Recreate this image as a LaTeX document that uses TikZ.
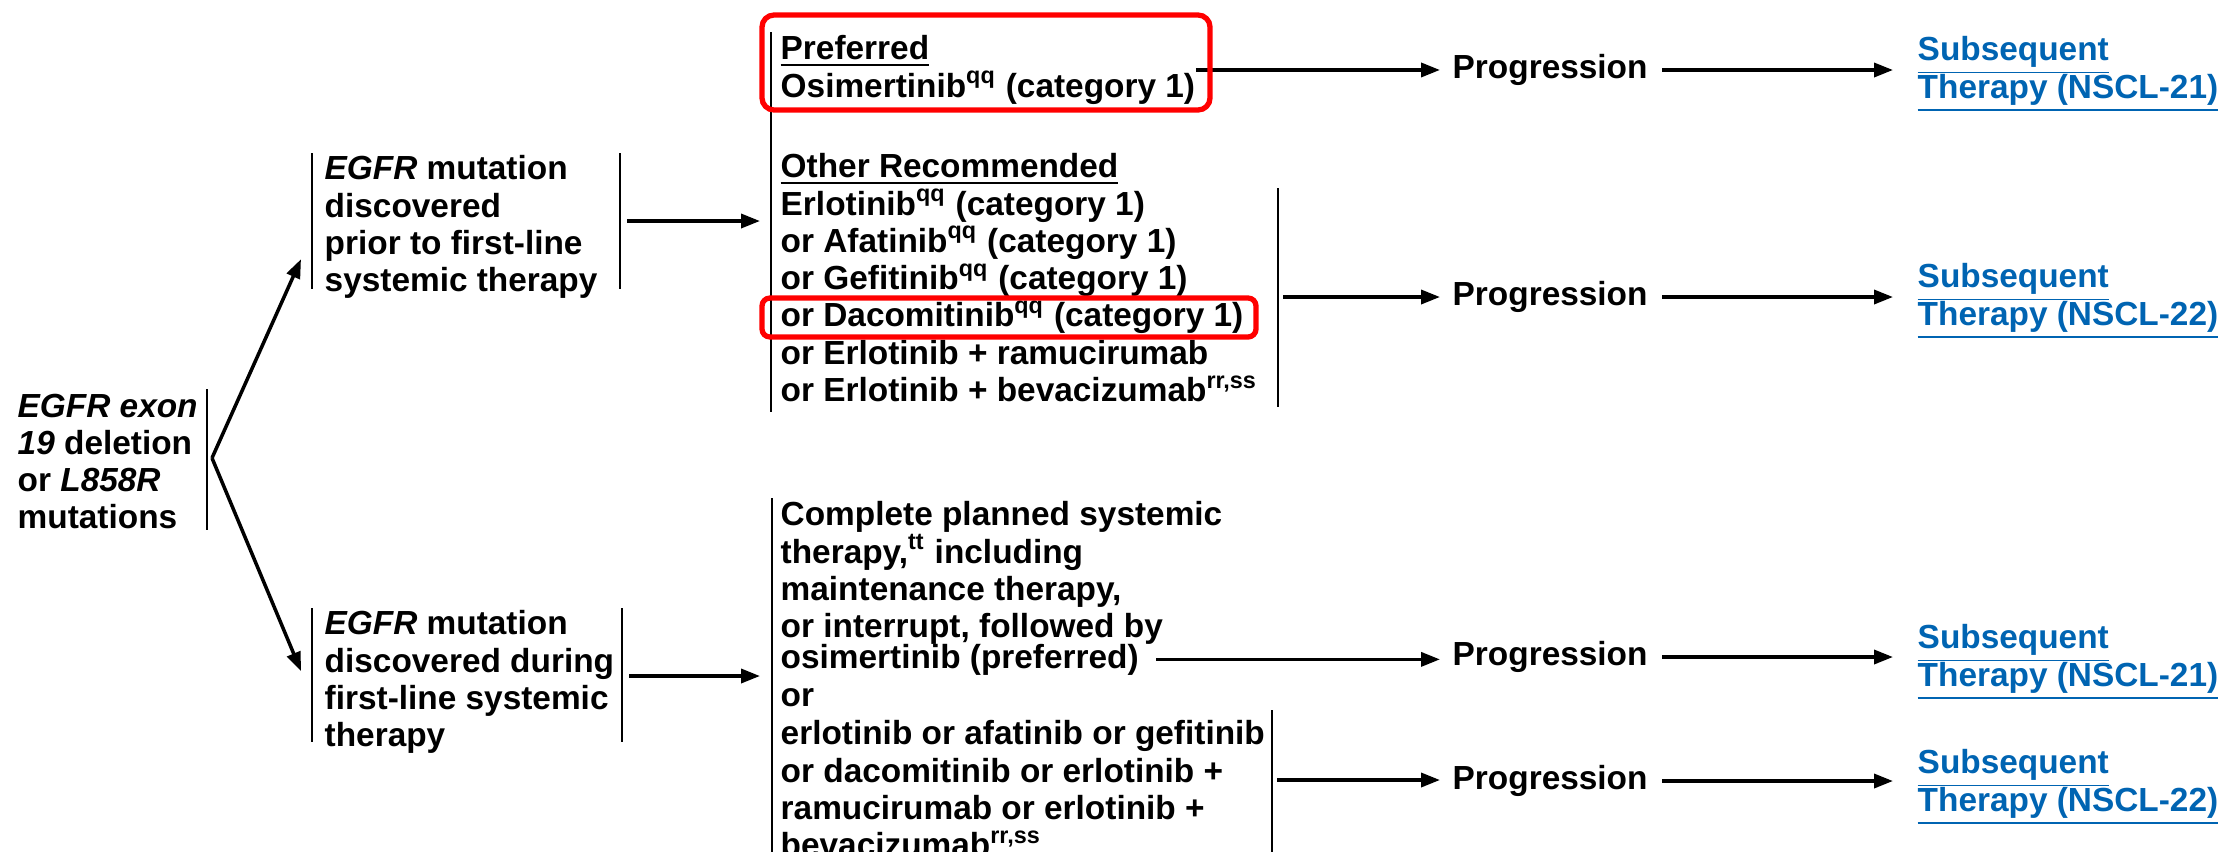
\documentclass[tikz,border=0pt]{standalone}
\usepackage{fontspec}
\setmainfont{Liberation Sans}
\usetikzlibrary{arrows.meta}
\definecolor{linkblue}{RGB}{0,100,178}

\begin{document}
\begin{tikzpicture}[
  txt/.style={inner sep=0pt,align=left,font=\fontsize{9.5pt}{10.6pt}\selectfont\bfseries,
    execute at begin node={\lineskiplimit=-10pt}},
  lnk/.style={txt,text=linkblue},
  bar/.style={line width=0.8pt},
  arr/.style={line width=1pt,-{Triangle[length=1.9mm,width=1.4mm]}},
  hl/.style={draw=red,line width=1.5pt,rounded corners=1.2mm}]
\useasboundingbox (0,0) rectangle (22.23,-8.51);

% first two columns
\node[txt,anchor=north west] (mut) at (0.17,-3.93) {\textit{EGFR exon}\\\textit{19} deletion\\or \textit{L858R}\\mutations};
\node[txt,anchor=north west] (prior) at (3.24,-1.55) {\textit{EGFR} mutation\\discovered\\prior to first-line\\systemic therapy};
\node[txt,anchor=north west] (during) at (3.24,-6.10) {\textit{EGFR} mutation\\discovered during\\first-line systemic\\therapy};

% treatment options
\node[txt,anchor=north west] (pref) at (7.80,-0.35) {\underline{Preferred}\\Osimertinib\textsuperscript{qq} (category 1)};
\node[txt,anchor=north west] (other) at (7.80,-1.53) {\underline{Other Recommended}\\Erlotinib\textsuperscript{qq} (category 1)\\or Afatinib\textsuperscript{qq} (category 1)\\or Gefitinib\textsuperscript{qq} (category 1)\\or Dacomitinib\textsuperscript{qq} (category 1)\\or Erlotinib + ramucirumab\\or Erlotinib + bevacizumab\textsuperscript{rr,ss}};
\node[txt,anchor=north west] (cont) at (7.80,-5.01) {Complete planned systemic\\therapy,\textsuperscript{tt} including\\maintenance therapy,\\or interrupt, followed by};
\node[txt,anchor=base west] (osim) at (7.80,-6.68) {osimertinib (preferred)};
\node[txt,anchor=base west] (orw) at (7.80,-7.06) {or};
\node[txt,anchor=north west] (alt) at (7.80,-7.20) {erlotinib or afatinib or gefitinib\\or dacomitinib or erlotinib +\\ramucirumab or erlotinib +\\bevacizumab\textsuperscript{rr,ss}};

% progression and links
\node[txt,anchor=west] (prog1) at (14.52,-0.70) {Progression};
\node[txt,anchor=west] (prog2) at (14.52,-2.97) {Progression};
\node[txt,anchor=west] (prog3) at (14.52,-6.57) {Progression};
\node[txt,anchor=west] (prog4) at (14.52,-7.81) {Progression};
\node[lnk,anchor=north west] (sub1) at (19.17,-0.36) {\underline{Subsequent}\\\underline{Therapy (NSCL-21)}};
\node[lnk,anchor=north west] (sub2) at (19.17,-2.63) {\underline{Subsequent}\\\underline{Therapy (NSCL-22)}};
\node[lnk,anchor=north west] (sub3) at (19.17,-6.24) {\underline{Subsequent}\\\underline{Therapy (NSCL-21)}};
\node[lnk,anchor=north west] (sub4) at (19.17,-7.49) {\underline{Subsequent}\\\underline{Therapy (NSCL-22)}};

% bars
\draw[bar] (2.07,-3.89) -- (2.07,-5.30);
\draw[bar] (3.12,-1.53) -- (3.12,-2.89);
\draw[bar] (6.20,-1.53) -- (6.20,-2.89);
\draw[bar] (3.12,-6.08) -- (3.12,-7.42);
\draw[bar] (6.22,-6.08) -- (6.22,-7.42);
\draw[bar] (7.71,-0.32) -- (7.71,-4.12);
\draw[bar] (12.78,-1.88) -- (12.78,-4.07);
\draw[bar] (7.72,-4.98) -- (7.72,-8.60);
\draw[bar] (12.72,-7.10) -- (12.72,-8.60);

\coordinate (fork) at (2.12,-4.58);
\coordinate (pr) at (6.20,-2.21);
\coordinate (dr) at (6.22,-6.76);
\coordinate (ob) at (12.78,-2.97);
\coordinate (ab) at (12.72,-7.80);

% connectors
\draw[arr] (fork) -- ([shift={(-2.3mm,-3.2mm)}]prior.west);
\draw[arr] (fork) -- ([shift={(-2.3mm,1.1mm)}]during.west);
\draw[arr,shorten <=0.7mm,shorten >=2mm] (pr) -- (pr -| pref.west);
\draw[arr,shorten <=0.7mm,shorten >=2mm] (dr) -- (dr -| cont.west);
\draw[arr,shorten >=1.2mm] (pref.east) -- (pref.east -| prog1.west);
\draw[arr,shorten <=0.5mm,shorten >=1.2mm] (ob) -- (ob -| prog2.west);
\draw[arr,shorten <=1.7mm,shorten >=1.2mm] (osim.east) -- (osim.east -| prog3.west);
\draw[arr,shorten <=0.5mm,shorten >=1.2mm] (ab) -- (ab -| prog4.west);
\foreach \i in {1,...,4}
  \draw[arr,shorten <=1.4mm,shorten >=2.4mm] (prog\i.east) -- (prog\i.east -| sub\i.west);

% highlights
\draw[hl] (7.62,-0.15) rectangle (12.10,-1.10);
\draw[hl,rounded corners=0.8mm] (7.62,-2.98) rectangle (12.56,-3.37);
\end{tikzpicture}
\end{document}
